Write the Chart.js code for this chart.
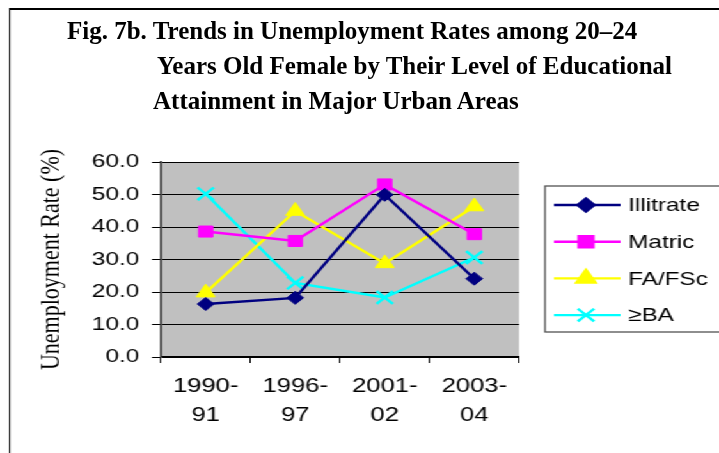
<!DOCTYPE html>
<html>
<head>
<meta charset="utf-8">
<script src="https://cdn.jsdelivr.net/npm/chart.js@4/dist/chart.umd.min.js"></script>
<style>
  html, body { margin: 0; padding: 0; background: #fff; overflow: hidden; }
  #wrap { position: absolute; left: 0; top: 0; width: 562px; height: 453px;
          transform: scaleX(1.2794); transform-origin: 0 0; }
  #frame { position: absolute; left: 7px; top: 8px; width: 1000px; height: 1000px;
           border-left: 1.6px solid #000; border-top: 2px solid #000; }
  #title { position: absolute; left: 0; top: 13px; font-family: "Liberation Serif", "Times New Roman", serif;
           font-weight: bold; font-size: 25px; line-height: 35px; color: #000; white-space: nowrap; }
  #chart { position: absolute; left: 0; top: 0; }
</style>
</head>
<body>
<div id="wrap">
  <div id="frame"></div>
  <canvas id="chart" width="562" height="453"></canvas>
</div>
<div id="title">
  <div style="margin-left:67px">Fig. 7b. Trends in Unemployment Rates among 20–24</div>
  <div style="margin-left:157px">Years Old Female by Their Level of Educational</div>
  <div style="margin-left:153px">Attainment in Major Urban Areas</div>
</div>
<script>
// values
var periods = [['1990-', '91'], ['1996-', '97'], ['2001-', '02'], ['2003-', '04']];
var seriesNames = ['Illitrate', 'Matric', 'FA/FSc', '\u2265BA'];
var illitrate = [16.3, 18.2, 49.9, 24.1];
var matric = [38.6, 35.7, 53.1, 37.8];
var fafsc = [19.8, 44.9, 28.8, 46.3];
var ba = [50.2, 22.8, 18.3, 30.6];
var yTicks = [0, 10, 20, 30, 40, 50, 60];

var sans = "'Liberation Sans', Arial, sans-serif";

var plotBg = {
    id: 'plotBg',
    beforeDraw: function (chart) {
        var a = chart.chartArea, ctx = chart.ctx;
        ctx.save();
        ctx.fillStyle = '#C0C0C0';
        ctx.fillRect(a.left, a.top, a.right - a.left, a.bottom - a.top);
        ctx.restore();
    }
};

// boxed legend to the right, like the Excel original
var boxLegend = {
    id: 'boxLegend',
    afterDraw: function (chart) {
        var ctx = chart.ctx;
        ctx.save();
        ctx.strokeStyle = '#444';
        ctx.lineWidth = 1.2;
        ctx.strokeRect(426, 186, 200, 146);
        chart.data.datasets.forEach(function (ds, i) {
            var y = 205 + i * 36.7;
            ctx.strokeStyle = ds.borderColor;
            ctx.fillStyle = ds.backgroundColor;
            ctx.lineWidth = ds.borderWidth;
            ctx.beginPath();
            ctx.moveTo(433, y);
            ctx.lineTo(485, y);
            ctx.stroke();
            if (Chart.helpers && Chart.helpers.drawPoint) {
                Chart.helpers.drawPoint(ctx, {
                    pointStyle: ds.pointStyle, radius: ds.pointRadius,
                    borderWidth: ds.pointBorderWidth, rotation: 0
                }, 458, y);
            }
            ctx.fillStyle = '#000';
            ctx.font = '19px ' + sans;
            ctx.textBaseline = 'middle';
            ctx.textAlign = 'left';
            ctx.fillText(ds.label, 491, y + 1);
        });
        ctx.restore();
    }
};

function series(i, data, color, style, radius) {
    return {
        label: seriesNames[i],
        data: data,
        borderColor: color,
        backgroundColor: color,
        borderWidth: 2.4,
        pointStyle: style,
        pointRadius: radius,
        pointHoverRadius: radius,
        pointBorderWidth: style === 'crossRot' ? 2.4 : 1,
        tension: 0
    };
}

new Chart(document.getElementById('chart'), {
    type: 'line',
    data: {
        labels: periods,
        datasets: [
            series(0, illitrate, '#000080', 'rectRot', 6.5),
            series(1, matric, '#FF00FF', 'rect', 7.8),
            series(2, fafsc, '#FFFF00', 'triangle', 8.5),
            series(3, ba, '#00FFFF', 'crossRot', 9)
        ]
    },
    options: {
        responsive: false,
        devicePixelRatio: 1,
        animation: false,
        layout: { padding: { left: 0, top: 162, right: 156.3, bottom: 0 } },
        plugins: { legend: { display: false }, title: { display: false }, tooltip: { enabled: false } },
        scales: {
            x: {
                offset: true,
                grid: { display: true, drawOnChartArea: false, offset: true, color: '#000', tickLength: 6 },
                border: { color: '#000', width: 1.2 },
                ticks: { color: '#000', padding: 8.5, maxRotation: 0,
                         font: { family: sans, size: 20, lineHeight: 1.45 } },
                afterFit: function (s) { s.height = 96; }
            },
            y: {
                min: yTicks[0],
                max: yTicks[yTicks.length - 1],
                afterBuildTicks: function (s) { s.ticks = yTicks.map(function (v) { return { value: v }; }); },
                grid: { color: '#000', lineWidth: 1, tickLength: 7 },
                border: { color: '#333', width: 1.6 },
                ticks: { color: '#000', padding: 10, font: { family: sans, size: 19 },
                         callback: function (v) { return v.toFixed(1); } },
                title: { display: true, text: 'Unemployment Rate (%)', color: '#000',
                         padding: { top: 27, bottom: 0 },
                         font: { family: "'Liberation Serif', 'Times New Roman', serif", size: 22, lineHeight: 1.2 } },
                afterFit: function (s) { s.width = 125.8; }
            }
        }
    },
    plugins: [plotBg, boxLegend]
});
</script>
</body>
</html>
